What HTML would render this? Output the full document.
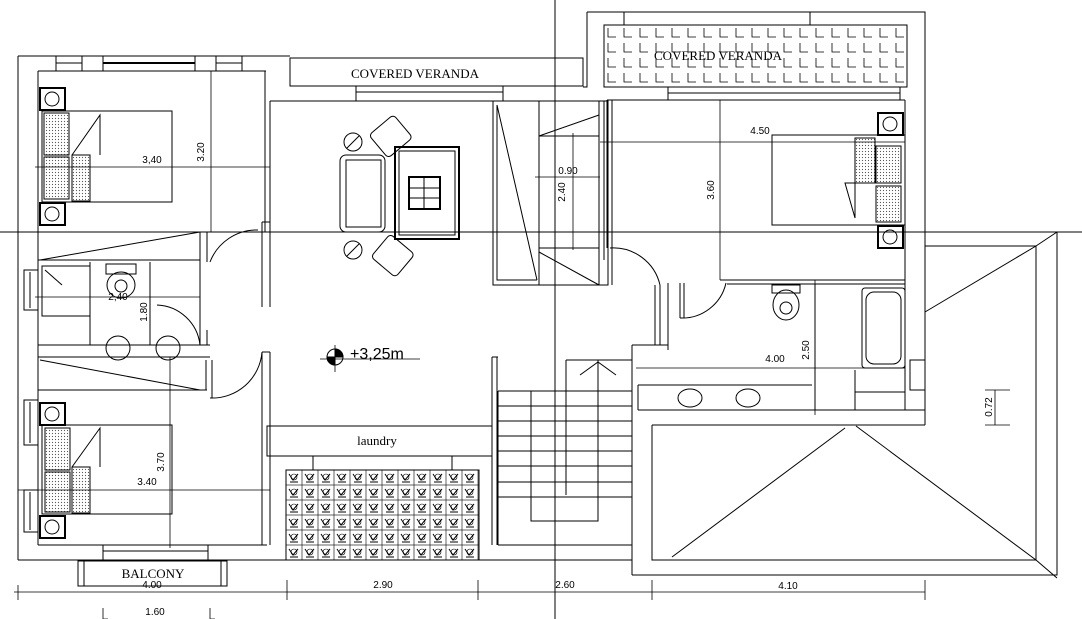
<!DOCTYPE html>
<html><head><meta charset="utf-8"><style>
html,body{margin:0;padding:0;background:#fff;}
svg{display:block}
text{font-family:"Liberation Sans",sans-serif;fill:#000}
.s{font-family:"Liberation Serif",serif}
</style></head><body>
<svg width="1082" height="619" viewBox="0 0 1082 619" xmlns="http://www.w3.org/2000/svg">
<defs>
<pattern id="ver" x="604" y="25" width="16" height="15" patternUnits="userSpaceOnUse">
<path d="M4,3 V12 H12" fill="none" stroke="#000" stroke-width="0.8"/>
</pattern>
<pattern id="lau" x="286" y="470" width="16" height="15" patternUnits="userSpaceOnUse">
<rect x="0" y="0" width="16" height="15" fill="none" stroke="#000" stroke-width="0.6"/>
<path d="M3,4 L7,10 L12,4 M4,12 H12" fill="none" stroke="#000" stroke-width="1"/>
<circle cx="8" cy="7" r="3" fill="none" stroke="#000" stroke-width="0.6"/>
</pattern>
<pattern id="dot" width="3" height="3" patternUnits="userSpaceOnUse"><circle cx="1.5" cy="1.5" r="0.6" fill="#555"/></pattern>
</defs>
<g fill="none" stroke="#000" stroke-width="1">
<line x1="555" y1="0" x2="555" y2="619"/>
<line x1="0" y1="232" x2="1082" y2="232"/>
<path d="M18,56 H290 M18,56 V560 M38,71 V545 M38,71 H266 M18,560 H632 M38,545 H267"/>
<rect x="56" y="56" width="26" height="15"/><line x1="56" y1="63" x2="82" y2="63"/>
<rect x="103" y="56" width="92" height="15"/><line x1="103" y1="63" x2="195" y2="63" stroke-width="2"/>
<rect x="216" y="56" width="26" height="15"/><line x1="216" y1="63" x2="242" y2="63"/>
<rect x="24" y="270" width="14" height="40"/><line x1="30" y1="272" x2="30" y2="308"/>
<rect x="24" y="400" width="14" height="45"/><line x1="30" y1="402" x2="30" y2="443"/>
<rect x="24" y="490" width="14" height="42"/><line x1="30" y1="492" x2="30" y2="530"/>
<rect x="103" y="545" width="105" height="15"/><line x1="103" y1="551" x2="208" y2="551"/>
<rect x="290" y="58" width="293" height="28"/>
<rect x="356" y="86" width="147" height="15"/><line x1="356" y1="92" x2="503" y2="92"/>
<path d="M265,71 V232 M270,101 V307 M262,222 V307 M262,222 H270"/>
<rect x="42" y="111" width="130" height="91"/>
<rect x="44" y="113" width="25" height="42" fill="url(#dot)"/><rect x="44" y="157" width="25" height="42" fill="url(#dot)"/>
<rect x="72" y="155" width="18" height="46" fill="url(#dot)"/>
<path d="M72,155 L100,115 L100,155"/>
<rect x="40" y="88" width="25" height="22" stroke-width="2"/><circle cx="52" cy="99" r="7"/>
<rect x="40" y="203" width="25" height="22" stroke-width="2"/><circle cx="52" cy="214" r="7"/>
<line x1="35" y1="167" x2="270" y2="167" stroke-width="0.8"/>
<line x1="211" y1="71" x2="211" y2="232" stroke-width="0.8"/>
<path d="M210,262 A50,50 0 0 1 258,230"/>
<path d="M200,232 V345 M207,232 V262 M207,330 V345"/>
<path d="M38,232 L200,232 M38,260 H200 M40,260 L200,232 M38,345 H210 M38,357 H210 M38,390 H207 M40,360 L200,390 M150,262 V345 M90,262 V345"/>
<rect x="42" y="266" width="48" height="50"/><line x1="45" y1="270" x2="62" y2="285"/>
<rect x="106" y="264" width="30" height="10"/><ellipse cx="121" cy="285" rx="14" ry="13"/><circle cx="121" cy="286" r="6"/>
<path d="M157,305 A45,45 0 0 1 200,345"/>
<circle cx="118" cy="348" r="12"/><circle cx="168" cy="348" r="12"/>
<line x1="150" y1="290" x2="150" y2="340" stroke-width="0.8"/>
<line x1="35" y1="297" x2="200" y2="297" stroke-width="0.8"/>
<path d="M210,398 A50,50 0 0 0 262,352"/>
<path d="M206,360 V390 M212,360 V398 M262,352 V545 M270,352 V545 M262,352 H270"/>
<rect x="42" y="425" width="130" height="89"/>
<rect x="45" y="428" width="25" height="42" fill="url(#dot)"/><rect x="45" y="472" width="25" height="40" fill="url(#dot)"/>
<rect x="72" y="467" width="18" height="46" fill="url(#dot)"/>
<path d="M72,467 L100,428 L100,467"/>
<rect x="40" y="403" width="25" height="22" stroke-width="2"/><circle cx="52" cy="414" r="7"/>
<rect x="40" y="516" width="25" height="22" stroke-width="2"/><circle cx="52" cy="527" r="7"/>
<line x1="170" y1="357" x2="170" y2="548" stroke-width="0.8"/>
<line x1="18" y1="490" x2="270" y2="490" stroke-width="0.8"/>
<rect x="78" y="561" width="149" height="25"/><line x1="84" y1="561" x2="84" y2="586"/><line x1="221" y1="561" x2="221" y2="586"/>
<path d="M270,101 H497 M493,101 V285 M497,357 V545 M492,357 V545 M492,357 H498"/>
<rect x="267" y="426" width="225" height="30"/>
<rect x="313" y="456" width="139" height="14"/>
<rect x="286" y="470" width="193" height="90" fill="url(#lau)"/>
<rect x="340" y="155" width="45" height="77" rx="6"/>
<rect x="346" y="160" width="35" height="67"/>
<rect x="395" y="147" width="64" height="92" stroke-width="2"/>
<rect x="399" y="151" width="56" height="84"/>
<rect x="409" y="177" width="31" height="32" stroke-width="2"/>
<path d="M424,177 V209 M409,188 H440 M409,198 H440"/>
<g transform="rotate(-40 390 137)"><rect x="375" y="122" width="32" height="30" rx="4"/></g>
<g transform="rotate(40 392 255)"><rect x="377" y="240" width="32" height="30" rx="4"/></g>
<circle cx="353" cy="142" r="9"/><line x1="347" y1="148" x2="359" y2="136"/>
<circle cx="353" cy="250" r="9"/><line x1="347" y1="256" x2="359" y2="244"/>
<circle cx="335" cy="357" r="8"/>
<path d="M335,349 A8,8 0 0 1 343,357 L335,357 Z" fill="#000"/>
<path d="M327,357 A8,8 0 0 0 335,365 L335,357 Z" fill="#000"/>
<line x1="320" y1="359" x2="420" y2="359" stroke-width="0.8"/><line x1="335" y1="345" x2="335" y2="372" stroke-width="0.8"/>
<rect x="493" y="101" width="115" height="184"/>
<path d="M497,105 V280 H537 M539,101 V285 M599,101 V285 M604,101 V260 M497,105 L537,280 M539,136 L599,115 M539,252 L599,285 M539,248 H599 M539,136 H599"/>
<line x1="573" y1="133" x2="573" y2="250" stroke-width="0.8"/>
<line x1="535" y1="177" x2="600" y2="177" stroke-width="0.8"/>
<path d="M587,12 V87 H583 M587,12 H925 V425 M905,100 V410"/>
<rect x="624" y="12" width="186" height="13"/>
<rect x="604" y="25" width="303" height="62" fill="url(#ver)"/>
<rect x="668" y="87" width="232" height="13"/><line x1="668" y1="93" x2="900" y2="93"/>
<path d="M607,100 H905 M607,100 V248 M612,100 V285"/>
<line x1="720" y1="100" x2="720" y2="280" stroke-width="0.8"/>
<line x1="600" y1="142" x2="905" y2="142" stroke-width="0.8"/>
<rect x="772" y="135" width="133" height="90"/>
<rect x="855" y="138" width="20" height="45" fill="url(#dot)"/>
<rect x="876" y="146" width="25" height="37" fill="url(#dot)"/><rect x="876" y="186" width="25" height="36" fill="url(#dot)"/>
<path d="M845,183 L855,183 L855,218 Z"/>
<rect x="878" y="113" width="25" height="22" stroke-width="2"/><circle cx="890" cy="124" r="7"/>
<rect x="878" y="226" width="25" height="22" stroke-width="2"/><circle cx="890" cy="237" r="7"/>
<path d="M610,248 A48,48 0 0 1 660,285"/>
<path d="M655,285 V345 M660,285 V345 M668,283 V350 M632,345 H668 M632,345 V575"/>
<path d="M680,318 A45,45 0 0 0 726,283"/>
<path d="M680,283 V318 M684,283 V318"/>
<path d="M720,280 H905 M727,284 H905"/>
<path d="M815,284 V410 M638,385 H812 M638,385 V410 M638,410 H925 M855,370 V410 M855,392 H905"/>
<rect x="862" y="288" width="43" height="80" rx="3"/><rect x="866" y="292" width="35" height="72" rx="8"/>
<rect x="772" y="285" width="28" height="8"/><ellipse cx="786" cy="305" rx="13" ry="15"/><circle cx="786" cy="308" r="6"/>
<ellipse cx="690" cy="398" rx="12" ry="9"/><ellipse cx="748" cy="398" rx="12" ry="9"/>
<line x1="636" y1="368" x2="905" y2="368" stroke-width="0.8"/>
<line x1="815" y1="280" x2="815" y2="415" stroke-width="0.8"/>
<rect x="910" y="360" width="15" height="30"/>
<path d="M498,391 H632 M498,406 H632 M498,421 H632 M498,436 H632 M498,451 H632 M498,466 H632 M498,482 H632 M498,497 H632 M498,391 V545 M498,545 H632"/>
<path d="M531,391 V521 H598 V360 M566,360 V495 M566,360 H632 M580,375 L598,362 L616,375"/>
<path d="M652,425 V560 H1036 V246 H925 M632,575 H1057 V232 M652,425 H925"/>
<path d="M925,312 L1036,246 L1057,232 M1036,560 L1057,578 M845,428 L672,557 M856,426 L1036,560"/>
<path d="M995,390 V425 M985,390 H1010 M985,425 H1010" stroke-width="0.8"/>
<path d="M14,592 H925 M18,585 V600 M287,580 V600 M478,580 V600 M652,580 V600 M925,580 V600" stroke-width="0.8"/>
<path d="M103,608 V619 M210,608 V619 M103,619 H108 M210,619 H215" stroke-width="0.8"/>
</g>
<text x="415" y="78" font-size="13" class="s" text-anchor="middle">COVERED VERANDA</text>
<text x="718" y="60" font-size="13" class="s" text-anchor="middle">COVERED VERANDA</text>
<text x="377" y="445" font-size="13" class="s" text-anchor="middle">laundry</text>
<text x="153" y="578" font-size="13" class="s" text-anchor="middle">BALCONY</text>
<text x="350" y="359" font-size="16">+3,25m</text>
<g font-size="10">
<text x="152" y="163" text-anchor="middle">3,40</text>
<text x="118" y="300" text-anchor="middle">2,40</text>
<text x="147" y="485" text-anchor="middle">3.40</text>
<text x="760" y="134" text-anchor="middle">4.50</text>
<text x="568" y="174" text-anchor="middle">0.90</text>
<text x="775" y="362" text-anchor="middle">4.00</text>
<text x="152" y="588" text-anchor="middle">4.00</text>
<text x="383" y="588" text-anchor="middle">2.90</text>
<text x="565" y="588" text-anchor="middle">2.60</text>
<text x="788" y="589" text-anchor="middle">4.10</text>
<text x="155" y="615" text-anchor="middle">1.60</text>
<text transform="translate(204,152) rotate(-90)" text-anchor="middle">3.20</text>
<text transform="translate(147,312) rotate(-90)" text-anchor="middle">1.80</text>
<text transform="translate(164,462) rotate(-90)" text-anchor="middle">3.70</text>
<text transform="translate(565,192) rotate(-90)" text-anchor="middle">2.40</text>
<text transform="translate(714,190) rotate(-90)" text-anchor="middle">3.60</text>
<text transform="translate(809,350) rotate(-90)" text-anchor="middle">2.50</text>
<text transform="translate(992,407) rotate(-90)" text-anchor="middle">0.72</text>
</g>
</svg>
</body></html>
